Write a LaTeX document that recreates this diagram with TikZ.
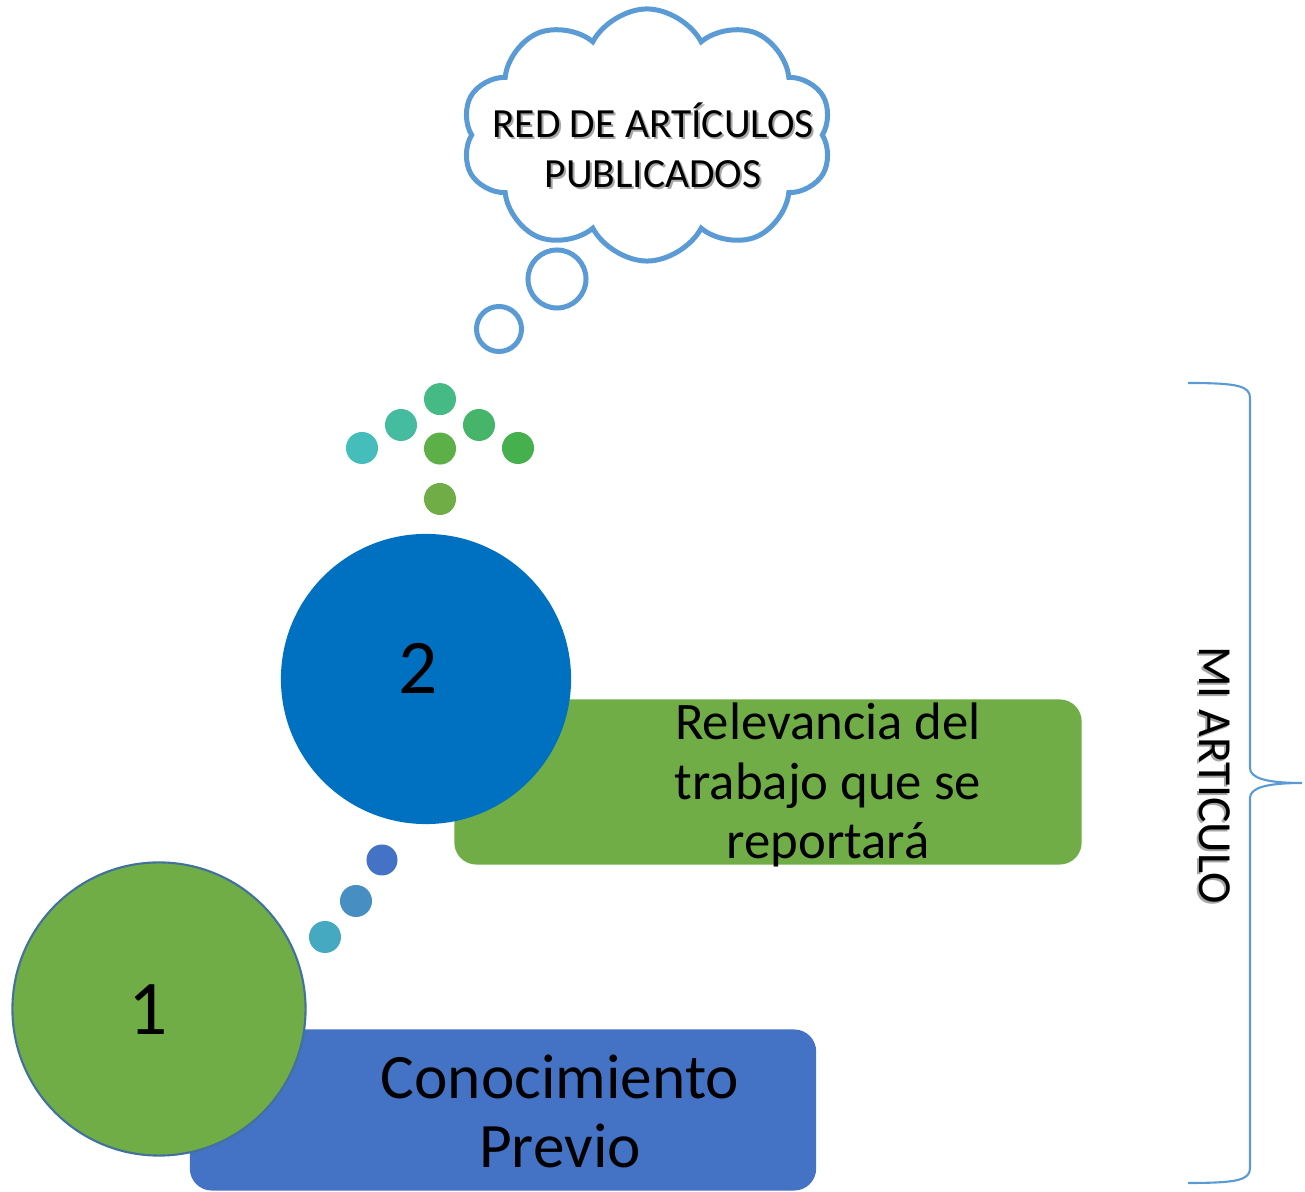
\documentclass[tikz,border=0pt]{standalone}
\usepackage{fontspec}
\setmainfont{Carlito}
\usetikzlibrary{shapes.symbols}
\usetikzlibrary{positioning}

\definecolor{cloudblue}{HTML}{5B9BD5}
\definecolor{stepgreen}{HTML}{70AD47}
\definecolor{stepblue}{HTML}{4472C4}
\definecolor{deepblue}{HTML}{0070C0}
\definecolor{rimblue}{HTML}{41719C}

\begin{document}
\begin{tikzpicture}[x=0.01cm, y=-0.01cm,
	stage/.style={circle, inner sep=0pt},
	box/.style={rectangle, rounded corners=0.22cm, inner sep=0pt},
	dot/.style={circle, inner sep=0pt, minimum size=0.32cm},
	puff/.style={circle, draw=cloudblue, line width=0.05cm, inner sep=0pt}]
	 \useasboundingbox (0,0) rectangle (1305,1192);
	 % cajas de fondo
	 \node [box, fill=stepblue, minimum width=6.26cm, minimum height=1.61cm] (conoc) at (503,1110) {};
	 \node [box, fill=stepgreen, minimum width=6.27cm, minimum height=1.65cm] (relev) at (768,782) {};
	 \node [align=center, font=\fontsize{18}{19.6}\selectfont] (conoctxt) at (560,1111) {Conocimiento\\Previo};
	 \node [align=center, font=\fontsize{15}{16.8}\selectfont] (relevtxt) at (828,785) {Relevancia del\\trabajo que se\\reportará};
	 % circulos
	 \node [stage, fill=stepgreen, draw=rimblue, line width=0.6pt, minimum size=2.93cm] (c1) at (159,1009) {};
	 \node [stage, fill=deepblue, minimum size=2.9cm] (c2) at (426,679) {};
	 \node [font=\fontsize{22}{24}\selectfont] (n1) at (148,1010) {1};
	 \node [font=\fontsize{22}{24}\selectfont] (n2) at (418,668) {2};
	 % puntos entre circulos
	 \node [dot, fill={rgb,255:red,69;green,169;blue,193}] (p1) at (325,937) {};
	 \node [dot, fill={rgb,255:red,71;green,143;blue,194}] (p2) at (356,901) {};
	 \node [dot, fill=stepblue, minimum size=0.31cm] (p3) at (382,860) {};
	 % puntos verdes
	 \node [dot, fill=stepgreen] (d7) at (440,499) {};
	 \node [dot, fill={rgb,255:red,92;green,176;blue,71}, above=0.17cm of d7] (d6) {};
	 \node [dot, fill={rgb,255:red,69;green,186;blue,133}, above=0.16cm of d6] (d4) {};
	 \node [dot, fill={rgb,255:red,69;green,187;blue,160}] (d3) at (401,425) {};
	 \node [dot, fill={rgb,255:red,69;green,189;blue,187}] (d1) at (362,448) {};
	 \node [dot, fill={rgb,255:red,70;green,181;blue,106}] (d5) at (479,425) {};
	 \node [dot, fill={rgb,255:red,71;green,176;blue,78}] (d2) at (518,448) {};
	 % nube
	 \node [puff, minimum size=0.45cm] (b2) at (499,329) {};
	 \node [puff, minimum size=0.58cm] (b1) at (557,279) {};
	 \node [cloud, cloud puffs=10, cloud puff arc=125, cloud ignores aspect, draw=cloudblue, line width=0.05cm, fill=white, minimum width=3.7cm, minimum height=2.52cm] (red) at (647,135) {};
	 \node [align=center, text=black!35, font=\fontsize{11.8}{14.2}\selectfont, xshift=0.02cm, yshift=-0.02cm] (redsh) at (653,145) {RED DE ARTÍCULOS\\PUBLICADOS};
	 \node [align=center, font=\fontsize{11.8}{14.2}\selectfont] (redtxt) at (653,145) {RED DE ARTÍCULOS\\PUBLICADOS};
	 % llave
	 \coordinate (bt) at (1188,383);
	 \coordinate (bb) at (1188,1183);
	 \coordinate (tip) at (1302,783);
	 \draw [cloudblue, line width=0.6pt] (bt) .. controls (1238,383) and (1250,386) .. (1250,398) -- (1250,768) .. controls (1250,778) and (1266,783) .. (tip) .. controls (1266,783) and (1250,788) .. (1250,798) -- (1250,1168) .. controls (1250,1180) and (1238,1183) .. (bb);
	 \node [rotate=-90, text=black!35, font=\fontsize{13.5}{15}\selectfont] (mish) at (1213,777) {MI ARTICULO};
	 \node [rotate=-90, font=\fontsize{13.5}{15}\selectfont] (mi) at (1215,775) {MI ARTICULO};
 \end{tikzpicture}
\end{document}
